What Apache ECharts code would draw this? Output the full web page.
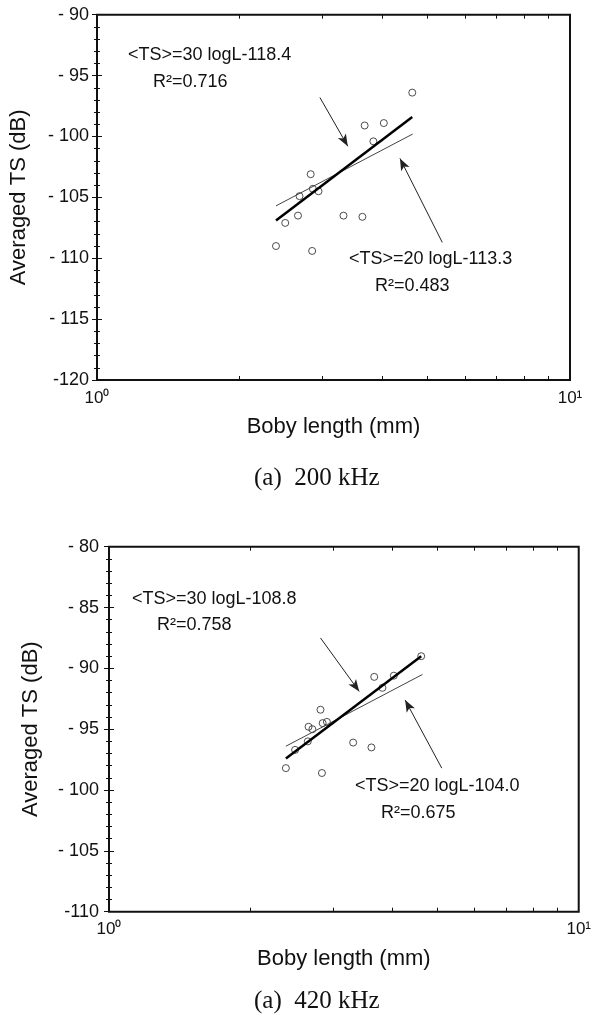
<!DOCTYPE html>
<html>
<head>
<meta charset="utf-8">
<script src="https://cdn.jsdelivr.net/npm/echarts@6/dist/echarts.min.js"></script>
<style>
html, body { margin: 0; padding: 0; background: #fff; }
#chart { width: 594px; height: 1016px; }
</style>
</head>
<body>
<div id="chart"></div>
<script>
// 200 kHz: body length (mm) / averaged TS (dB)
const L200 = [4.64, 3.68, 4.04, 3.84, 2.83, 2.68, 2.86, 2.94, 2.66, 2.50, 3.32, 3.64, 2.39, 2.85]
const TS200 = [-96.4, -99.1, -98.9, -100.4, -103.1, -104.9, -104.3, -104.5, -106.5, -107.1, -106.5, -106.6, -109.0, -109.4]
// regression lines, end points
const fit30L200 = [2.39, 4.64]
const fit30TS200 = [-106.9, -98.4]
const fit20L200 = [2.39, 4.65]
const fit20TS200 = [-105.7, -99.8]
// arrows [tail, tip]
const arrows200 = [[[2.96, -96.8], [3.39, -100.8]], [[5.37, -108.7], [4.37, -101.8]]]
const notes200 = ['<TS>=30 logL-118.4', 'R²=0.716', '<TS>=20 logL-113.3', 'R²=0.483']
const yLabels200 = ['-120', '- 115', '- 110', '- 105', '- 100', '- 95', '- 90']

// 420 kHz
const L420 = [4.62, 3.67, 4.04, 3.82, 2.82, 2.66, 2.71, 2.85, 2.91, 2.65, 2.49, 3.31, 3.62, 2.38, 2.84]
const TS420 = [-89.0, -90.7, -90.6, -91.6, -93.4, -94.8, -95.0, -94.5, -94.4, -96.0, -96.7, -96.1, -96.5, -98.2, -98.6]
const fit30L420 = [2.38, 4.62]
const fit30TS420 = [-97.4, -89.0]
const fit20L420 = [2.38, 4.65]
const fit20TS420 = [-96.4, -90.5]
const arrows420 = [[[2.82, -87.5], [3.41, -91.9]], [[5.11, -98.2], [4.27, -92.6]]]
const notes420 = ['<TS>=30 logL-108.8', 'R²=0.758', '<TS>=20 logL-104.0', 'R²=0.675']
const yLabels420 = ['-110', '- 105', '- 100', '- 95', '- 90', '- 85', '- 80']

const xLabels = ['10⁰', '10¹']
const xMinorTicks = [2, 3, 4, 5, 6, 7, 8, 9]
const captions = ['(a)  200 kHz', '(a)  420 kHz']

const SANS = 'Liberation Sans, Arial, sans-serif'
const SERIF = 'Liberation Serif, Times New Roman, serif'
const INK = '#111'

const zip = (a, b) => a.map((v, i) => [v, b[i]])

// x axes for one grid: log data axis + two plain axes that only carry the 2..9 ticks
function xAxes (g, labelMargin) {
    const minor = {
        type: 'value', gridIndex: g, min: 0, max: 1,
        axisLine: { show: false }, axisLabel: { show: false }, splitLine: { show: false },
        axisTick: { show: true, inside: true, length: 4, customValues: xMinorTicks.map(v => Math.log10(v)), lineStyle: { color: INK } }
    }
    return [
        {
            type: 'log', logBase: 10, gridIndex: g, min: 1, max: 10, position: 'bottom',
            axisLine: { show: false }, axisTick: { show: false }, splitLine: { show: false },
            axisLabel: {
                margin: labelMargin, fontSize: 17, color: INK, fontFamily: SANS,
                formatter: v => xLabels[Math.round(Math.log10(v))] || ''
            },
            name: 'Boby length (mm)', nameLocation: 'middle', nameGap: 36,
            nameTextStyle: { fontSize: 22, color: INK, fontFamily: SANS }
        },
        Object.assign({ position: 'bottom' }, minor),
        Object.assign({ position: 'top' }, minor)
    ]
}

function yAxes (g, min, labels, labelMargin) {
    const base = {
        type: 'value', gridIndex: g, min: min, max: min + 30, interval: 5,
        axisLine: { show: false }, splitLine: { show: false },
        axisTick: { inside: true, length: 5, lineStyle: { color: INK } },
        minorTick: { show: true, splitNumber: 5, length: 3, lineStyle: { color: INK } }
    }
    return [
        Object.assign({}, base, {
            position: 'left',
            axisLabel: {
                margin: labelMargin, fontSize: 18, color: INK, fontFamily: SANS,
                formatter: v => labels[Math.round((v - min) / 5)]
            },
            name: 'Averaged TS (dB)', nameLocation: 'middle', nameGap: 67, nameRotate: 90,
            nameTextStyle: { fontSize: 22, color: INK, fontFamily: SANS }
        }),
        Object.assign({}, base, { position: 'right', axisLabel: { show: false } })
    ]
}

function panelSeries (xi, yi, L, TS, f30L, f30TS, f20L, f20TS, arrows) {
    return [
        {
            type: 'line', xAxisIndex: xi, yAxisIndex: yi, data: zip(f20L, f20TS),
            symbol: 'none', lineStyle: { width: 1, color: '#444' }, silent: true
        },
        {
            type: 'line', xAxisIndex: xi, yAxisIndex: yi, data: zip(f30L, f30TS),
            symbol: 'none', lineStyle: { width: 2.5, color: '#000' }, silent: true
        },
        {
            type: 'scatter', xAxisIndex: xi, yAxisIndex: yi, data: zip(L, TS),
            symbol: 'circle', symbolSize: 7, silent: true,
            itemStyle: { color: 'rgba(255,255,255,0)', borderColor: '#222', borderWidth: 1 },
            markLine: {
                silent: true, symbol: ['none', 'arrow'], symbolSize: [7, 12],
                label: { show: false },
                lineStyle: { color: '#222', width: 1, type: 'solid' },
                data: arrows.map(a => [{ coord: a[0] }, { coord: a[1] }])
            }
        }
    ]
}

function note (text, x, y, font, size) {
    return {
        type: 'text', x: x, y: y, silent: true,
        style: { text: text, fontSize: size, fontFamily: font, fill: INK, verticalAlign: 'middle' }
    }
}

const chart = echarts.init(document.getElementById('chart'))
chart.setOption({
    animation: false,
    backgroundColor: '#fff',
    grid: [
        { left: 96.7, top: 14.7, width: 473.3, height: 365.3, show: true, borderColor: INK, borderWidth: 2 },
        { left: 109, top: 546.7, width: 472.7, height: 365, show: true, borderColor: INK, borderWidth: 2 }
    ],
    xAxis: xAxes(0, 10).concat(xAxes(1, 9)),
    yAxis: yAxes(0, -120, yLabels200, 8).concat(yAxes(1, -110, yLabels420, 10)),
    series: panelSeries(0, 0, L200, TS200, fit30L200, fit30TS200, fit20L200, fit20TS200, arrows200)
        .concat(panelSeries(3, 2, L420, TS420, fit30L420, fit30TS420, fit20L420, fit20TS420, arrows420)),
    graphic: [
        note(notes200[0], 128, 55, SANS, 18),
        note(notes200[1], 153, 82, SANS, 18),
        note(notes200[2], 349, 259, SANS, 18),
        note(notes200[3], 375, 286, SANS, 18),
        note(notes420[0], 132, 599, SANS, 18),
        note(notes420[1], 157, 625, SANS, 18),
        note(notes420[2], 355, 786, SANS, 18),
        note(notes420[3], 381, 813, SANS, 18),
        note(captions[0], 254, 478, SERIF, 25),
        note(captions[1], 254, 1001, SERIF, 25)
    ]
})
</script>
</body>
</html>
